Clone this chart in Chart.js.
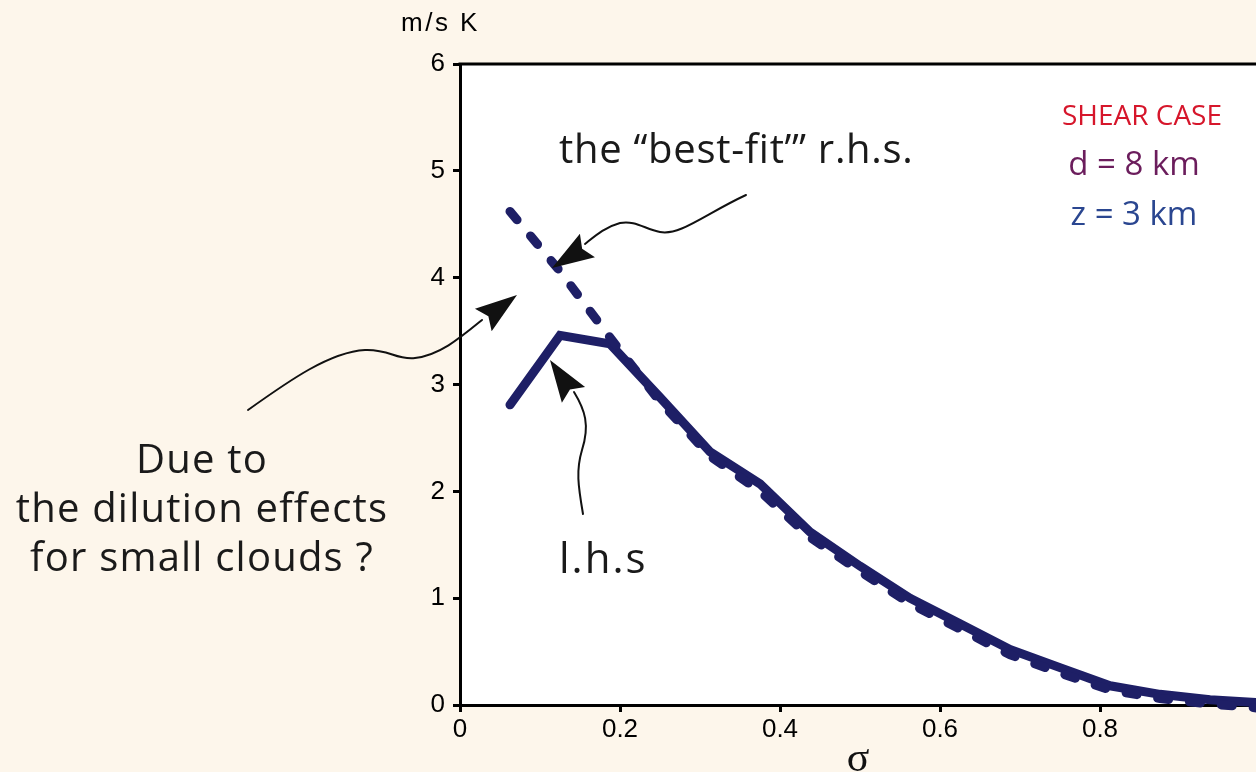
<!DOCTYPE html>
<html>
<head>
<meta charset="utf-8">
<script src="https://cdn.jsdelivr.net/npm/chart.js@4.4.1/dist/chart.umd.min.js"></script>
<style>
    html, body { margin: 0; padding: 0; background: #fdf6eb; overflow: hidden; }
    #wrap { width: 1256px; height: 772px; }
</style>
</head>
<body>
<div id="wrap"><canvas id="sigmaChart" width="1256" height="772"></canvas></div>
<script>
"use strict";
// sigma values along the x axis
const sigma = [0.0625, 0.125, 0.1875, 0.25, 0.3125, 0.375, 0.4375, 0.5, 0.5625, 0.625, 0.6875, 0.75, 0.8125, 0.875, 0.9375, 1.0];
// l.h.s (solid line)
const lhsValues = [2.81, 3.46, 3.38, 2.88, 2.37, 2.07, 1.62, 1.30, 1.00, 0.76, 0.52, 0.35, 0.18, 0.10, 0.05, 0.02];
// best-fit r.h.s (dashed line)
const rhsValues = [4.62, 4.06, 3.44, 2.84, 2.33, 2.00, 1.57, 1.25, 0.95, 0.71, 0.47, 0.30, 0.14, 0.06, 0.01, -0.03];
const xTickValues = [0, 0.2, 0.4, 0.6, 0.8];
const yTickValues = [0, 1, 2, 3, 4, 5, 6];

const navy = '#1e1f66';
const textFont = '"Open Sans", "Noto Sans", sans-serif';
const tickFont = '"Liberation Sans", Arial, sans-serif';

function toPoints(values) {
    return sigma.map((s, i) => ({ x: s, y: values[i] }));
}

function drawText(ctx, str, x, y, size, color, align, spacing) {
    ctx.font = size + 'px ' + textFont;
    ctx.fillStyle = color;
    ctx.textAlign = align || 'left';
    ctx.textBaseline = 'alphabetic';
    ctx.letterSpacing = (spacing || 0) + 'px';
    ctx.fillText(str, x, y);
    ctx.letterSpacing = '0px';
}

// filled arrow head with a small notch at the back
function arrowHead(ctx, tipX, tipY, fromX, fromY, len, halfW) {
    const a = Math.atan2(tipY - fromY, tipX - fromX);
    const bx = tipX - Math.cos(a) * len, by = tipY - Math.sin(a) * len;
    const nx = -Math.sin(a), ny = Math.cos(a);
    const notchX = tipX - Math.cos(a) * len * 0.85, notchY = tipY - Math.sin(a) * len * 0.85;
    ctx.beginPath();
    ctx.moveTo(tipX, tipY);
    ctx.lineTo(bx + nx * halfW, by + ny * halfW);
    ctx.lineTo(notchX, notchY);
    ctx.lineTo(bx - nx * halfW, by - ny * halfW);
    ctx.closePath();
    ctx.fill();
}

const decorPlugin = {
    id: 'decor',
    beforeDraw(chart) {
        const { ctx, chartArea } = chart;
        ctx.save();
        ctx.fillStyle = '#ffffff';
        ctx.fillRect(chartArea.left, chartArea.top, chartArea.right - chartArea.left, chartArea.bottom - chartArea.top);
        ctx.restore();
    },
    afterDraw(chart) {
        const { ctx, chartArea } = chart;
        ctx.save();
        // top frame line
        ctx.strokeStyle = '#000';
        ctx.lineWidth = 3;
        ctx.beginPath();
        ctx.moveTo(chartArea.left - 1.5, chartArea.top);
        ctx.lineTo(chartArea.right, chartArea.top);
        ctx.stroke();

        // y unit
        ctx.font = '26px ' + tickFont;
        ctx.fillStyle = '#000';
        ctx.textAlign = 'left';
        ctx.textBaseline = 'middle';
        ctx.letterSpacing = '2.5px';
        ctx.fillText('m/s K', 401, 24);
        ctx.letterSpacing = '0px';

        // labels
        drawText(ctx, 'the \u201cbest-fit\u2019\u201d r.h.s.', 559, 163, 40, '#1a1a1a', 'left', 0.7);
        drawText(ctx, 'l.h.s', 559, 573, 42, '#1a1a1a', 'left', 2);
        drawText(ctx, 'Due to', 202, 473, 40, '#1a1a1a', 'center', 1.2);
        drawText(ctx, 'the dilution effects', 202, 522, 40, '#1a1a1a', 'center', 1.2);
        drawText(ctx, 'for small clouds ?', 202, 571, 40, '#1a1a1a', 'center', 1.2);

        drawText(ctx, 'SHEAR CASE', 1142, 125, 28, '#d6162b', 'center');
        drawText(ctx, 'd = 8 km', 1134, 175, 33, '#6b1d5c', 'center');
        drawText(ctx, 'z = 3 km', 1134, 225, 33, '#2a4690', 'center');

        // arrows
        ctx.strokeStyle = '#111';
        ctx.fillStyle = '#111';
        ctx.lineWidth = 2;
        ctx.lineCap = 'round';

        ctx.beginPath();
        ctx.moveTo(746, 195);
        ctx.bezierCurveTo(705, 214, 680, 236, 660, 232);
        ctx.bezierCurveTo(645, 229, 635, 220, 620, 223);
        ctx.bezierCurveTo(605, 227, 595, 236, 585, 244);
        ctx.stroke();
        arrowHead(ctx, 552, 268, 596, 240, 42, 14);

        ctx.beginPath();
        ctx.moveTo(248, 410);
        ctx.bezierCurveTo(290, 380, 330, 352, 365, 350);
        ctx.bezierCurveTo(390, 349, 395, 360, 415, 358);
        ctx.bezierCurveTo(440, 355, 460, 338, 482, 320);
        ctx.stroke();
        arrowHead(ctx, 517, 295, 474, 327, 42, 14);

        ctx.beginPath();
        ctx.moveTo(583, 514);
        ctx.bezierCurveTo(578, 485, 576, 470, 582, 450);
        ctx.bezierCurveTo(590, 425, 585, 410, 574, 392);
        ctx.stroke();
        arrowHead(ctx, 550, 360, 579, 403, 42, 14);
        ctx.restore();
    }
};

const ctx = document.getElementById('sigmaChart').getContext('2d');
new Chart(ctx, {
    type: 'line',
    data: {
        datasets: [
            {
                label: 'best-fit r.h.s.',
                data: toPoints(rhsValues),
                borderColor: navy,
                borderWidth: 9,
                borderDash: [11, 21],
                borderCapStyle: 'round',
                borderJoinStyle: 'round',
                pointRadius: 0,
                tension: 0,
                clip: 20
            },
            {
                label: 'l.h.s',
                data: toPoints(lhsValues),
                borderColor: navy,
                borderWidth: 9,
                borderCapStyle: 'round',
                borderJoinStyle: 'miter',
                pointRadius: 0,
                tension: 0,
                clip: 20
            }
        ]
    },
    options: {
        responsive: false,
        animation: false,
        events: [],
        layout: { padding: { top: 64, right: 0, left: 0, bottom: 0 } },
        plugins: {
            legend: { display: false },
            tooltip: { enabled: false }
        },
        scales: {
            x: {
                type: 'linear',
                min: 0,
                max: 0.995,
                afterFit(scale) { scale.height = 67; },
                afterBuildTicks(scale) { scale.ticks = xTickValues.map(v => ({ value: v })); },
                border: { display: true, color: '#000', width: 3 },
                grid: { drawOnChartArea: false, drawTicks: true, tickLength: 7, tickWidth: 3, tickColor: '#000' },
                ticks: {
                    color: '#000',
                    padding: 2,
                    maxRotation: 0,
                    font: { family: tickFont, size: 26 },
                    callback: v => String(v)
                },
                title: {
                    display: true,
                    text: '\u03c3',
                    color: '#111',
                    padding: { top: 0, bottom: 2 },
                    font: { family: '"Liberation Serif", "DejaVu Serif", serif', size: 42, lineHeight: 0.5 }
                }
            },
            y: {
                min: 0,
                max: 6,
                afterFit(scale) { scale.width = 460; },
                afterBuildTicks(scale) { scale.ticks = yTickValues.map(v => ({ value: v })); },
                border: { display: true, color: '#000', width: 3 },
                grid: { drawOnChartArea: false, drawTicks: true, tickLength: 7, tickWidth: 3, tickColor: '#000' },
                ticks: {
                    color: '#000',
                    padding: 8,
                    font: { family: tickFont, size: 26 }
                }
            }
        }
    },
    plugins: [decorPlugin]
});
</script>
</body>
</html>
